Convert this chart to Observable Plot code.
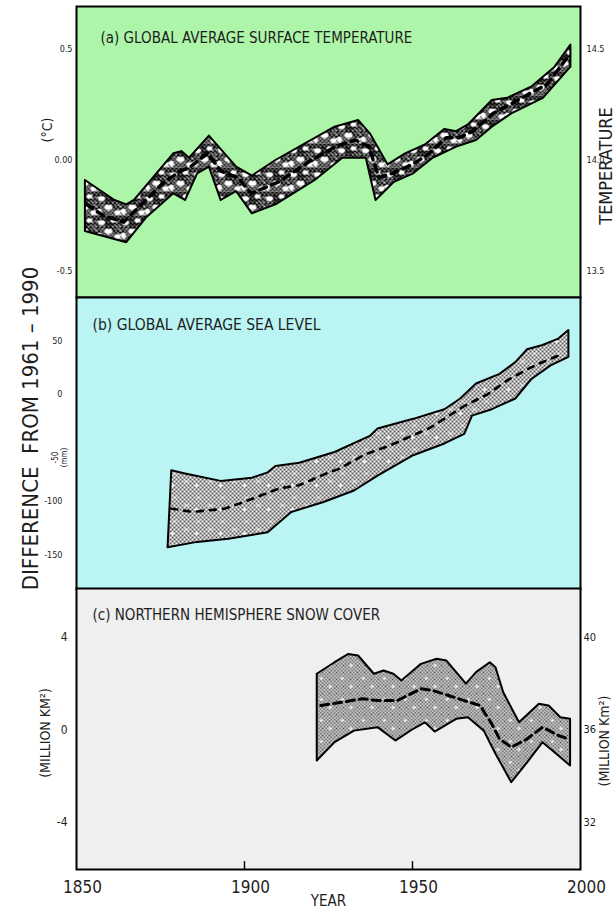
<!DOCTYPE html>
<html><head><meta charset="utf-8">
<script src="https://cdn.jsdelivr.net/npm/d3@7"></script>
<script src="https://cdn.jsdelivr.net/npm/@observablehq/plot@0.6"></script>
<style>
body{margin:0;background:#fff;}
#chart{position:relative;width:616px;height:916px;overflow:hidden;}
</style></head><body>
<svg id="defs" width="0" height="0" style="position:absolute"><defs></defs></svg>
<div id="chart"></div>
<script>
// ---------- data ----------
const yearTicks = [1850, 1900, 1950, 2000];
const yearLabels = ["1850", "1900", "1950", "2000"];

// (a) temperature anomaly (°C)
const tempTicks = [-0.5, 0, 0.5];
const tempLeftLabels = ["-0.5", "0.00", "0.5"];
const tempRightLabels = ["13.5", "14.0", "14.5"];
const tempUpperYear = [1852.5,1861.3,1864.8,1867.1,1878.8,1881.2,1883.5,1889.4,1897.5,1902.2,1909.2,1920.9,1926.8,1933.8,1937.3,1942.6,1947.8,1953.7,1959.5,1963,1966.5,1973.6,1978.2,1985.3,1992.3,1997];
const tempUpper = [-0.09,-0.18,-0.20,-0.18,0.03,0.04,0.01,0.11,-0.03,-0.07,0.00,0.10,0.15,0.18,0.12,-0.02,0.03,0.07,0.14,0.13,0.16,0.27,0.28,0.33,0.42,0.52];
const tempLowerYear = [1852.5,1864.8,1870.6,1878.8,1882.3,1885.9,1889.4,1892.9,1897.5,1902.2,1909.2,1920.9,1929.1,1936.1,1939,1944.3,1950.2,1956,1963,1968.9,1973.6,1979.4,1988.8,1997];
const tempLower = [-0.32,-0.37,-0.26,-0.15,-0.18,-0.06,-0.03,-0.18,-0.14,-0.24,-0.20,-0.09,0.01,0.01,-0.18,-0.10,-0.06,0.01,0.06,0.09,0.15,0.21,0.28,0.42];
const tempMidYear = [1853,1858,1864,1870,1876,1881,1884,1889,1893,1898,1902,1910,1920,1927,1933,1937,1940,1944,1950,1955,1960,1964,1968,1974,1979,1985,1990,1996];
const tempMid = [-0.20,-0.25,-0.28,-0.19,-0.10,-0.05,-0.03,0.03,-0.05,-0.08,-0.15,-0.10,0.00,0.06,0.09,0.06,-0.08,-0.06,-0.02,0.03,0.10,0.10,0.13,0.21,0.25,0.30,0.34,0.46];

// (b) sea level (mm)
const seaTicks = [-150, -100, 0, 50];
const seaLabels = ["-150", "-100", "0", "50"];
const seaUpperYear = [1878.2,1882.3,1892.9,1902.2,1906.9,1909.2,1916.3,1926.8,1937.3,1939.6,1950.2,1959.5,1964.2,1968.9,1975.9,1980.6,1984.1,1988.7,1993.4,1996.4];
const seaUpper = [-71,-74,-81,-78,-73,-67,-64,-54,-39,-32,-23,-14,-4,10,19,30,42,46,52,60];
const seaLowerYear = [1877.1,1885.9,1895.2,1906.9,1913.9,1923.3,1932.6,1939.6,1950.2,1959.5,1965.4,1967.7,1973.6,1980.6,1985.3,1991.1,1996.4];
const seaLower = [-143,-138,-135,-129,-110,-101,-90,-76,-57,-46,-37,-20,-14,-4,14,27,35];
const seaMidYear = [1878.2,1884.7,1894,1898.7,1910.4,1916.3,1924.4,1927.9,1936.1,1943.2,1949,1954.9,1965.4,1972.4,1978.2,1986.4,1993.4];
const seaMid = [-107,-110,-107,-102,-88,-85,-74,-70,-56,-48,-40,-32,-11,0,13,27,36];

// (c) snow cover anomaly (million km²)
const snowTicks = [-4, 0, 4];
const snowLeftLabels = ["-4", "0", "4"];
const snowRightLabels = ["32", "36", "40"];
const snowUpperYear = [1921.5,1926.8,1930.9,1933.8,1938.5,1941.4,1944.3,1946.7,1952.5,1957.2,1960.1,1965.9,1968.9,1973,1974.7,1977,1981.7,1987.6,1990.5,1994,1996.9];
const snowUpper = [2.43,2.93,3.29,3.22,2.43,2.57,2.43,2.14,2.86,3.08,3.00,2.00,2.50,2.93,2.71,1.63,0.33,1.13,1.06,0.55,0.48];
const snowLowerYear = [1921.5,1926.8,1932.6,1939.6,1944.9,1950.2,1953.7,1956.6,1963,1966.5,1971.2,1974.7,1979.4,1984.1,1988.7,1993.4,1996.9];
const snowLower = [-1.32,-0.53,-0.03,0.12,-0.46,0.05,0.33,-0.07,0.48,0.55,-0.03,-1.03,-2.26,-1.40,-0.53,-1.11,-1.54];
const snowMidYear = [1922.7,1929.1,1935,1939.6,1945.5,1952.5,1956,1960.7,1965.4,1970.1,1973.6,1975.9,1979.4,1984.1,1988.7,1993.4,1996.4];
const snowMid = [1.06,1.20,1.35,1.27,1.27,1.78,1.71,1.49,1.27,1.06,0.26,-0.39,-0.75,-0.39,0.12,-0.24,-0.39];

// ---------- patterns ----------
function hatchPattern(id, size, step, color, width, bg, blobs) {
  const defs = d3.select("#defs defs");
  const p = defs.append("pattern").attr("id", id).attr("width", size).attr("height", size)
    .attr("patternUnits", "userSpaceOnUse");
  p.append("rect").attr("width", size).attr("height", size).attr("fill", bg);
  let d = "";
  for (let x = -size; x <= size; x += step) d += `M${x},0L${x + size},${size}`;
  for (let x = 0; x <= 2 * size; x += step) d += `M${x},0L${x - size},${size}`;
  p.append("path").attr("d", d).attr("stroke", color).attr("stroke-width", width).attr("fill", "none");
  for (const [cx, cy, rx, ry] of blobs) {
    p.append("ellipse").attr("cx", cx).attr("cy", cy).attr("rx", rx).attr("ry", ry).attr("fill", "#fff");
  }
}
hatchPattern("hatchA", 24, 4, "#000", 1.5, "#fff", [[5,6,3.6,2.6],[17,4,3,2.2],[12,15,4,2.8],[3,19,2.6,3],[21,20,3,2.4]]);
hatchPattern("hatchB", 24, 4, "#222", 0.75, "#fff", [[6,8,1.6,1.2],[18,16,1.8,1.3],[14,4,1.1,1],[4,20,1.2,1]]);
hatchPattern("hatchC", 21, 3.5, "#222", 0.8, "#f8f8f8", [[6,6,1.5,1.2],[15,14,1.6,1.3]]);

// ---------- helpers ----------
function band(upYears, up, loYears, lo) {
  const pts = upYears.map((x, i) => ({x, y: up[i]}));
  for (let i = loYears.length - 1; i >= 0; i--) pts.push({x: loYears[i], y: lo[i]});
  pts.push(pts[0]);
  return pts;
}
function series(years, vals) { return years.map((x, i) => ({x, y: vals[i]})); }
const FONT = "'DejaVu Sans Condensed','DejaVu Sans',sans-serif";
const INK = "#1e1e1e";
const chart = document.getElementById("chart");
function place(svg, top) {
  svg.style.position = "absolute";
  svg.style.left = "0px";
  svg.style.top = top + "px";
  svg.style.background = "transparent";
  svg.style.overflow = "visible";
  svg.style.maxWidth = "none";
  chart.appendChild(svg);
}
const xScale = {domain: [1850, 2000], axis: null};

// ---------- (a) ----------
const pa = Plot.plot({
  width: 616, height: 297, marginLeft: 76, marginRight: 36, marginTop: 6, marginBottom: 0,
  x: xScale,
  y: {domain: [-0.619, 0.691], axis: null},
  style: {fontFamily: FONT, color: INK, background: "transparent", overflow: "visible"},
  marks: [
    Plot.frame({fill: "#adf5a8"}),
    Plot.line(band(tempUpperYear, tempUpper, tempLowerYear, tempLower), {x: "x", y: "y", fill: "url(#hatchA)", stroke: "#000", strokeWidth: 2}),
    Plot.line(series(tempMidYear, tempMid), {x: "x", y: "y", stroke: "#000", strokeWidth: 3.5, strokeDasharray: "7,6"}),
    Plot.axisY({anchor: "left", ticks: tempTicks, tickFormat: d => tempLeftLabels[tempTicks.indexOf(d)], tickSize: 0, tickPadding: 4, fontSize: 9, label: null}),
    Plot.axisY({anchor: "right", ticks: tempTicks, tickFormat: d => tempRightLabels[tempTicks.indexOf(d)], tickSize: 0, tickPadding: 6, fontSize: 9, label: null}),
    Plot.text(["(a) GLOBAL AVERAGE SURFACE TEMPERATURE"], {frameAnchor: "top-left", dx: 24, dy: 26, textAnchor: "start", fontSize: 15, fill: INK}),
    Plot.text(["(°C)"], {frameAnchor: "left", dx: -29, dy: -22, rotate: -90, textAnchor: "middle", fontSize: 14, fill: INK}),
    Plot.text(["TEMPERATURE"], {frameAnchor: "right", dx: 26, dy: 14, rotate: -90, textAnchor: "middle", fontSize: 18, fill: INK}),
    Plot.frame({stroke: "#000", strokeWidth: 2})
  ]
});
place(pa, 0);

// ---------- (b) ----------
const pb = Plot.plot({
  width: 616, height: 292, marginLeft: 76, marginRight: 36, marginTop: 0, marginBottom: 0,
  x: xScale,
  y: {domain: [-182.5, 90.4], axis: null},
  style: {fontFamily: FONT, color: INK, background: "transparent", overflow: "visible"},
  marks: [
    Plot.frame({fill: "#bbf5f3"}),
    Plot.line(band(seaUpperYear, seaUpper, seaLowerYear, seaLower), {x: "x", y: "y", fill: "url(#hatchB)", stroke: "#000", strokeWidth: 2}),
    Plot.line(series(seaMidYear, seaMid), {x: "x", y: "y", stroke: "#000", strokeWidth: 2.6, strokeDasharray: "6,7"}),
    Plot.axisY({anchor: "left", ticks: seaTicks, tickFormat: d => seaLabels[seaTicks.indexOf(d)], tickSize: 0, tickPadding: 14, fontSize: 9, label: null}),
    Plot.text(["-50\n(mm)"], {frameAnchor: "left", dx: -17, dy: 14, rotate: -90, textAnchor: "middle", fontSize: 8, lineHeight: 1.1, fill: INK}),
    Plot.text(["(b) GLOBAL AVERAGE SEA LEVEL"], {frameAnchor: "top-left", dx: 16, dy: 21, textAnchor: "start", fontSize: 15.5, fill: INK}),
    Plot.text(["DIFFERENCE  FROM 1961 – 1990"], {frameAnchor: "left", dx: -46, dy: -15, rotate: -90, textAnchor: "middle", fontSize: 22, fill: INK}),
    Plot.frame({stroke: "#000", strokeWidth: 2})
  ]
});
place(pb, 297);

// ---------- (c) ----------
const pc = Plot.plot({
  width: 616, height: 328, marginLeft: 76, marginRight: 36, marginTop: 0, marginBottom: 47,
  x: xScale,
  y: {domain: [-6.04, 6.12], axis: null},
  style: {fontFamily: FONT, color: INK, background: "transparent", overflow: "visible"},
  marks: [
    Plot.frame({fill: "#efefef"}),
    Plot.line(band(snowUpperYear, snowUpper, snowLowerYear, snowLower), {x: "x", y: "y", fill: "url(#hatchC)", stroke: "#000", strokeWidth: 2}),
    Plot.line(series(snowMidYear, snowMid), {x: "x", y: "y", stroke: "#000", strokeWidth: 3, strokeDasharray: "8,5"}),
    Plot.ruleX([1900, 1950], {y1: -6.04, y2: -5.7, stroke: "#000", strokeWidth: 1.5}),
    Plot.axisY({anchor: "left", ticks: snowTicks, tickFormat: d => snowLeftLabels[snowTicks.indexOf(d)], tickSize: 0, tickPadding: 9, fontSize: 12, label: null}),
    Plot.axisY({anchor: "right", ticks: snowTicks, tickFormat: d => snowRightLabels[snowTicks.indexOf(d)], tickSize: 0, tickPadding: 3, fontSize: 11, label: null}),
    Plot.axisX({anchor: "bottom", ticks: yearTicks, tickFormat: d => yearLabels[yearTicks.indexOf(d)], tickSize: 0, tickPadding: 11, fontSize: 17, dx: 6, label: null}),
    Plot.text(["YEAR"], {frameAnchor: "bottom", dy: 36, fontSize: 15, fill: INK}),
    Plot.text(["(c) NORTHERN HEMISPHERE SNOW COVER"], {frameAnchor: "top-left", dx: 16, dy: 21, textAnchor: "start", fontSize: 15, fill: INK}),
    Plot.text(["(MILLION KM²)"], {frameAnchor: "left", dx: -31, dy: 4, rotate: -90, textAnchor: "middle", fontSize: 14, fill: INK}),
    Plot.text(["(MILLION Km²)"], {frameAnchor: "right", dx: 24, dy: 12, rotate: -90, textAnchor: "middle", fontSize: 14, fill: INK}),
    Plot.frame({stroke: "#000", strokeWidth: 2})
  ]
});
place(pc, 588);
</script>
</body></html>
